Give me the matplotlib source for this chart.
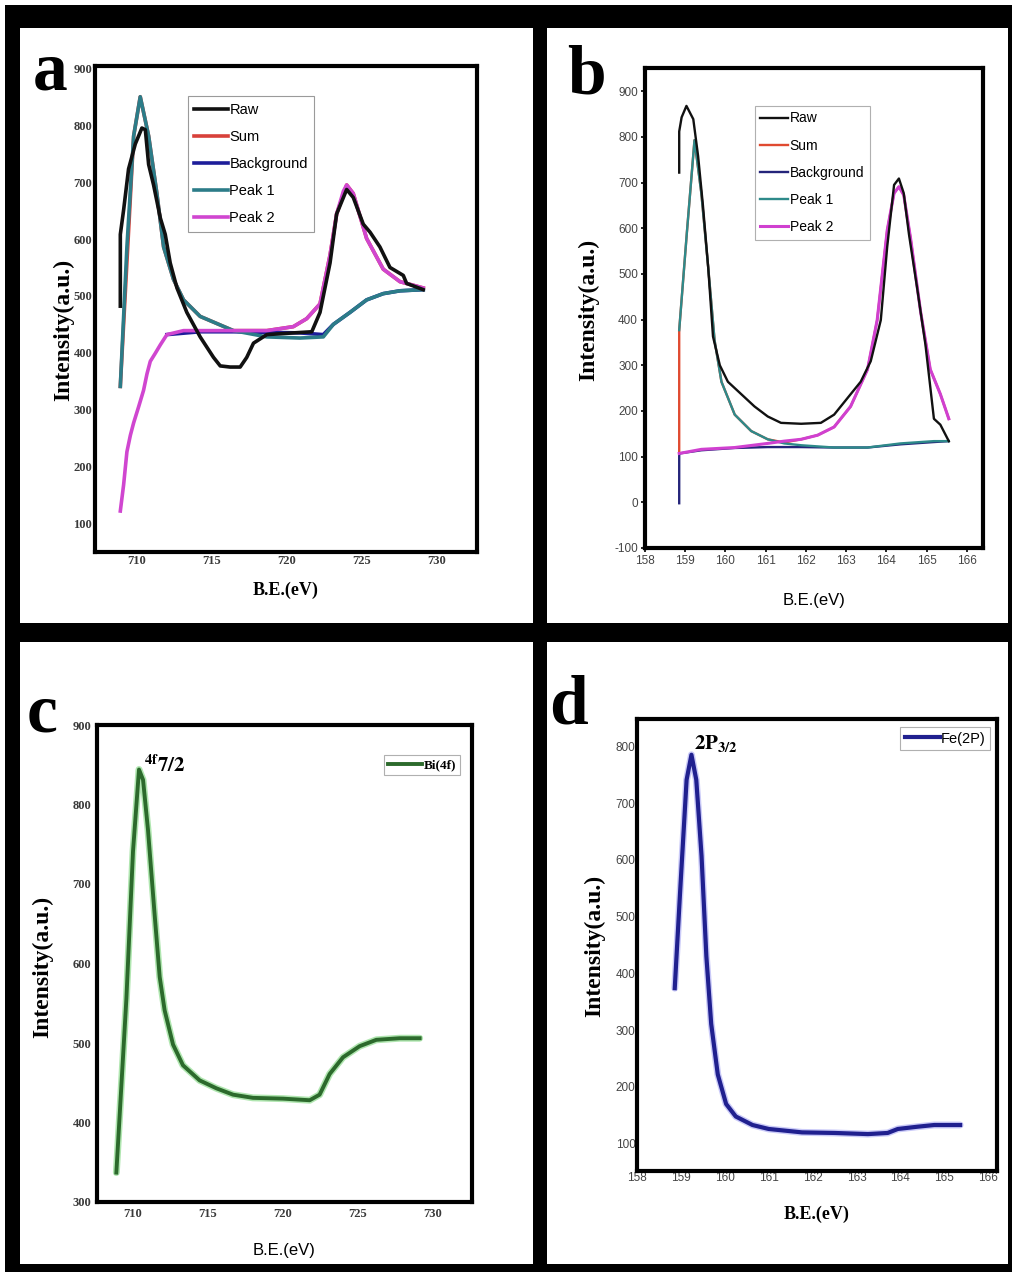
import matplotlib.pyplot as plt
from matplotlib.patches import Rectangle

W, H = 1014, 1276

# ---- (a) Bi 4f deconvolution ----
raw_a_x = [708.89, 708.89, 709.11, 709.44, 709.89, 710.33, 710.56, 710.78, 711.11, 711.56,
           711.89, 712.22, 712.67, 713.33, 714.22, 715.11, 715.56, 716.22, 716.89, 717.33,
           717.78, 718.67, 720.44, 721.67, 722.22, 722.89, 723.33, 724.0, 724.44, 725.11,
           725.56, 726.22, 726.89, 727.78, 728.0, 729.11]
raw_a_y = [482, 608, 651, 723, 767, 795, 792, 731, 695, 637,
           608, 558, 514, 471, 428, 392, 377, 375, 375, 392,
           417, 432, 435, 437, 471, 558, 644, 687, 673, 626,
           612, 586, 550, 536, 522, 511]

sum_a_x = [708.89, 709.78, 710.22, 710.78, 711.33, 711.78, 712.44, 713.11, 714.22, 716.44,
           718.67, 720.44, 721.33, 722.22, 722.89, 723.33, 724.0, 724.44, 725.33, 726.44,
           727.56, 729.11]
sum_a_y = [341, 781, 850, 781, 680, 586, 529, 493, 464, 439,
           439, 446, 460, 486, 572, 644, 695, 680, 601, 547,
           525, 514]

bg_a_x = [712.0, 714.22, 716.44, 718.67, 720.89, 722.44, 723.11, 724.22, 725.33, 726.44,
          727.56, 729.11]
bg_a_y = [432, 437, 437, 436, 435, 432, 450, 471, 493, 504, 509, 511]

peak1_a_x = [708.89, 709.33, 709.78, 710.22, 710.78, 711.33, 711.78, 712.44, 713.11, 714.22,
             716.44, 718.67, 720.89, 722.44, 723.11, 724.22, 725.33, 726.44, 727.56, 729.11]
peak1_a_y = [341, 586, 781, 850, 781, 680, 586, 529, 493, 464,
             439, 428, 426, 428, 450, 471, 493, 504, 509, 511]

peak2_a_x = [708.89, 709.11, 709.33, 709.56, 709.78, 710.11, 710.44, 710.67, 710.89, 711.22,
             711.56, 712.0, 713.11, 716.44, 718.67, 720.44, 721.33, 722.22, 722.89, 723.33,
             723.78, 724.0, 724.44, 725.33, 726.44, 727.56, 729.11]
peak2_a_y = [122, 168, 226, 255, 277, 305, 334, 363, 385, 399,
             414, 432, 439, 439, 439, 446, 460, 486, 572, 644,
             684, 695, 680, 601, 547, 525, 514]

# ---- (b) Fe 2p deconvolution ----
raw_b_x = [158.85, 158.85, 158.91, 159.03, 159.20, 159.32, 159.44, 159.57, 159.69, 159.86,
           160.06, 160.39, 160.72, 161.05, 161.38, 161.88, 162.37, 162.70, 163.03, 163.36,
           163.61, 163.86, 164.02, 164.19, 164.31, 164.43, 164.56, 164.76, 164.97, 165.18,
           165.34, 165.55]
raw_b_y = [722, 812, 843, 868, 839, 758, 650, 515, 363, 300,
           264, 237, 210, 188, 174, 172, 174, 192, 228, 264,
           309, 399, 560, 695, 709, 677, 587, 471, 345, 183,
           170, 134]

sum_b_x = [158.85, 158.85, 159.04, 159.23, 159.40, 159.57, 159.73, 159.90, 160.23, 160.64,
           161.05, 161.46, 161.88, 162.29, 162.70, 163.11, 163.53, 163.77, 164.02, 164.19,
           164.31, 164.43, 164.60, 164.85, 165.09, 165.34, 165.55]
sum_b_y = [107, 377, 590, 793, 677, 515, 354, 264, 192, 156,
           138, 131, 138, 147, 165, 210, 291, 399, 596, 677,
           691, 673, 578, 417, 291, 237, 183]

bg_b_x = [158.85, 158.85, 159.40, 160.23, 161.05, 161.88, 162.70, 163.53, 164.35, 165.18, 165.55]
bg_b_y = [-2, 107, 114, 119, 121, 121, 120, 120, 127, 132, 134]

peak1_b_x = [158.85, 159.04, 159.23, 159.40, 159.57, 159.73, 159.90, 160.23, 160.64, 161.05,
             161.46, 161.88, 162.70, 163.53, 164.35, 165.18, 165.55]
peak1_b_y = [377, 590, 793, 677, 515, 354, 264, 192, 156, 138,
             129, 125, 120, 120, 129, 134, 134]

peak2_b_x = [158.85, 159.40, 160.23, 161.05, 161.46, 161.88, 162.29, 162.70, 163.11, 163.53,
             163.77, 164.02, 164.19, 164.31, 164.43, 164.60, 164.85, 165.09, 165.34, 165.55]
peak2_b_y = [107, 116, 120, 129, 134, 138, 147, 165, 210, 291,
             399, 596, 677, 691, 673, 578, 417, 291, 237, 183]

# ---- (c) Bi(4f) survey ----
bi_x = [708.89, 709.56, 710.0, 710.4, 710.67, 711.0, 711.44, 711.78, 712.11, 712.67,
        713.33, 714.44, 715.56, 716.67, 718.0, 720.0, 721.78, 722.44, 723.11, 724.0,
        725.11, 726.22, 727.78, 729.11]
bi_y = [337, 556, 741, 844, 831, 768, 662, 583, 541, 498,
        472, 453, 443, 435, 431, 430, 428, 435, 461, 482,
        496, 504, 506, 506]

# ---- (d) Fe(2P) survey ----
fe_x = [158.86, 158.98, 159.13, 159.24, 159.35, 159.47, 159.58, 159.69, 159.84, 160.03,
        160.25, 160.63, 161.0, 161.76, 162.5, 163.26, 163.71, 163.94, 164.39, 164.77, 165.36]
fe_y = [374, 541, 741, 785, 741, 607, 430, 311, 222, 170,
        148, 133, 126, 120, 119, 117, 119, 126, 130, 133, 133]

fit_labels = ['Raw', 'Sum', 'Background', 'Peak 1', 'Peak 2']

SERIF = 'Liberation Serif'
SANS = 'Liberation Sans'
plt.rcParams['mathtext.fontset'] = 'stix'
plt.rcParams['axes.unicode_minus'] = False


def fig_box(x0, y0, x1, y1):
    """pixel box (top-left origin) -> figure fraction [l, b, w, h]"""
    return [x0 / W, 1 - y1 / H, (x1 - x0) / W, (y1 - y0) / H]


def panel_rect(fig, x0, y0, x1, y1, color):
    l, b, w, h = fig_box(x0, y0, x1, y1)
    fig.add_artist(Rectangle((l, b), w, h, transform=fig.transFigure,
                             facecolor=color, edgecolor='none', zorder=-5))


def heavy_spines(ax, lw=3.0):
    for sp in ax.spines.values():
        sp.set_linewidth(lw)
        sp.set_color('black')


def tick_font(ax, family, weight, size, color):
    for lab in ax.get_xticklabels() + ax.get_yticklabels():
        lab.set_fontfamily(family)
        lab.set_fontweight(weight)
        lab.set_fontsize(size)
        lab.set_color(color)


fig = plt.figure(figsize=(W / 100, H / 100), dpi=100, facecolor='white')

# black frame with four white panels
panel_rect(fig, 5, 5, 1012, 1272, 'black')
panel_rect(fig, 20, 28, 533, 623, 'white')
panel_rect(fig, 547, 28, 1008, 623, 'white')
panel_rect(fig, 20, 642, 533, 1264, 'white')
panel_rect(fig, 547, 642, 1008, 1264, 'white')

# ---------------- (a) ----------------
ax = fig.add_axes(fig_box(95, 66, 477, 552))
ax.plot(raw_a_x, raw_a_y, color='#111111', lw=2.6, label=fit_labels[0], zorder=3)
ax.plot(sum_a_x, sum_a_y, color='#d8413a', lw=2.6, label=fit_labels[1], zorder=1)
ax.plot(bg_a_x, bg_a_y, color='#1d1d9a', lw=2.6, label=fit_labels[2], zorder=1.5)
ax.plot(peak1_a_x, peak1_a_y, color='#2c7c88', lw=2.6, label=fit_labels[3], zorder=2)
ax.plot(peak2_a_x, peak2_a_y, color='#d046d0', lw=2.6, label=fit_labels[4], zorder=2.5)
ax.set_xlim(707.2, 732.7)
ax.set_ylim(50, 904)
ax.set_xticks([710, 715, 720, 725, 730])
ax.set_yticks(range(100, 1000, 100))
ax.tick_params(length=0, pad=2)
tick_font(ax, SERIF, 'bold', 9, '#3a3a3a')
heavy_spines(ax)
ax.set_xlabel('B.E.(eV)', family=SERIF, weight='bold', fontsize=13)
ax.xaxis.set_label_coords(0.5, -0.062)
ax.set_ylabel('Intensity(a.u.)', family=SERIF, weight='bold', fontsize=17)
ax.yaxis.set_label_coords(-0.055, 0.457)
leg = ax.legend(loc='upper left', bbox_to_anchor=(0.243, 0.938), borderaxespad=0,
                prop={'family': SANS, 'size': 10.5}, handlelength=2.3,
                handletextpad=0.1, labelspacing=0.9, borderpad=0.45,
                fancybox=False, edgecolor='#9a9a9a', framealpha=1)
leg.get_frame().set_linewidth(0.8)

# ---------------- (b) ----------------
ax = fig.add_axes(fig_box(645, 68, 983, 548))
ax.plot(raw_b_x, raw_b_y, color='#111111', lw=1.7, label=fit_labels[0], zorder=4)
ax.plot(sum_b_x, sum_b_y, color='#e04a30', lw=1.7, label=fit_labels[1], zorder=1)
ax.plot(bg_b_x, bg_b_y, color='#24247a', lw=1.7, label=fit_labels[2], zorder=1.5)
ax.plot(peak1_b_x, peak1_b_y, color='#2e8a8a', lw=1.7, label=fit_labels[3], zorder=2)
ax.plot(peak2_b_x, peak2_b_y, color='#d040d0', lw=2.2, label=fit_labels[4], zorder=2.5)
ax.set_xlim(158, 166.4)
ax.set_ylim(-100, 951)
ax.set_xticks(range(158, 167))
ax.set_yticks(range(-100, 1000, 100))
ax.tick_params(direction='out', length=3, width=1.2, pad=2)
tick_font(ax, SANS, 'normal', 8.5, '#444444')
heavy_spines(ax)
ax.set_xlabel('B.E.(eV)', family=SANS, fontsize=12)
ax.xaxis.set_label_coords(0.5, -0.094)
ax.set_ylabel('Intensity(a.u.)', family=SERIF, weight='bold', fontsize=17)
ax.yaxis.set_label_coords(-0.134, 0.496)
leg = ax.legend(loc='upper left', bbox_to_anchor=(0.325, 0.921), borderaxespad=0,
                prop={'family': SANS, 'size': 10}, handlelength=2.0,
                handletextpad=0.1, labelspacing=0.95, borderpad=0.4,
                fancybox=False, edgecolor='#b0b0b0', framealpha=1)
leg.get_frame().set_linewidth(0.8)

# ---------------- (c) ----------------
ax = fig.add_axes(fig_box(97, 725, 472, 1202))
ax.plot(bi_x, bi_y, color='#8fdc8f', lw=5.0, alpha=0.7, solid_capstyle='round')
ax.plot(bi_x, bi_y, color='#2c6a2c', lw=2.8, label='Bi(4f)')
ax.text(710.7, 850, r'${}^{\mathbf{4f}}\mathbf{7/2}$', fontsize=15, ha='left', va='center')
ax.set_xlim(707.6, 732.6)
ax.set_ylim(300, 900)
ax.set_xticks([710, 715, 720, 725, 730])
ax.set_yticks(range(300, 1000, 100))
ax.tick_params(length=0, pad=4)
tick_font(ax, SERIF, 'bold', 9, '#3a3a3a')
heavy_spines(ax)
ax.set_xlabel('B.E.(eV)', family=SANS, fontsize=12)
ax.xaxis.set_label_coords(0.5, -0.086)
ax.set_ylabel('Intensity(a.u.)', family=SERIF, weight='bold', fontsize=17)
ax.yaxis.set_label_coords(-0.118, 0.493)
leg = ax.legend(loc='upper right', bbox_to_anchor=(0.968, 0.937), borderaxespad=0,
                prop={'family': SERIF, 'weight': 'bold', 'size': 9.5}, handlelength=2.6,
                handletextpad=0.1, borderpad=0.3, fancybox=False,
                edgecolor='#b0b0b0', framealpha=1)
leg.get_frame().set_linewidth(0.8)

# ---------------- (d) ----------------
ax = fig.add_axes(fig_box(637, 719, 997, 1171))
ax.plot(fe_x, fe_y, color='#8a8af0', lw=5.0, alpha=0.45, solid_capstyle='round')
ax.plot(fe_x, fe_y, color='#20208f', lw=3.0, label='Fe(2P)')
ax.text(159.3, 805, r'$\mathbf{2P_{3/2}}$', fontsize=15, ha='left', va='center')
ax.set_xlim(158.1, 166.2)
ax.set_ylim(52, 848)
ax.set_xticks(range(158, 167))
ax.set_yticks(range(100, 900, 100))
ax.tick_params(length=0, pad=1)
tick_font(ax, SANS, 'normal', 8.5, '#444444')
heavy_spines(ax)
ax.set_xlabel('B.E.(eV)', family=SERIF, weight='bold', fontsize=13)
ax.xaxis.set_label_coords(0.5, -0.077)
ax.set_ylabel('Intensity(a.u.)', family=SERIF, weight='bold', fontsize=17)
ax.yaxis.set_label_coords(-0.087, 0.498)
leg = ax.legend(loc='upper right', bbox_to_anchor=(0.981, 0.982), borderaxespad=0,
                prop={'family': SANS, 'size': 10.5}, handlelength=2.4,
                handletextpad=0.1, borderpad=0.3, fancybox=False,
                edgecolor='#b0b0b0', framealpha=1)
leg.get_frame().set_linewidth(0.8)

# panel letters
for letter, px, py in [('a', 50, 90), ('b', 586, 94), ('c', 42, 731), ('d', 568, 723)]:
    fig.text(px / W, 1 - py / H, letter, family=SERIF, weight='bold', fontsize=50,
             ha='center', va='baseline')

fig.savefig('out.png', dpi=100, facecolor=fig.get_facecolor())
